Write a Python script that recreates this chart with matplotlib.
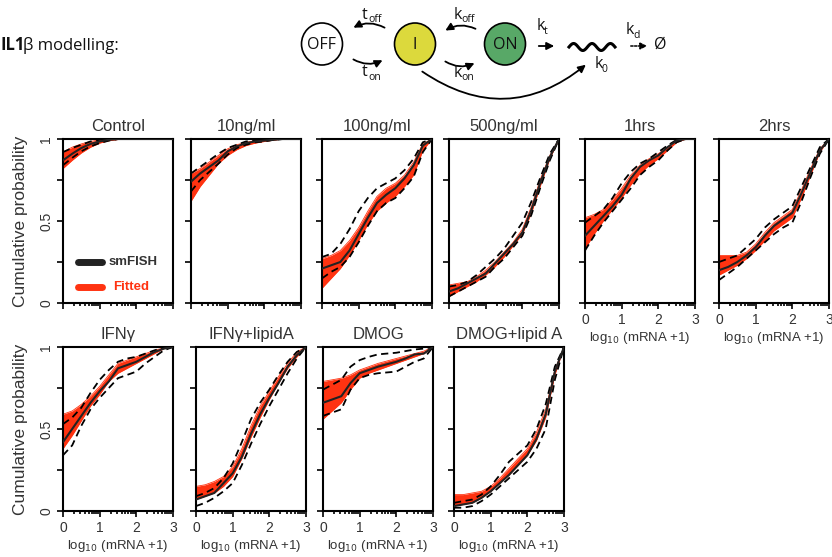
import numpy as np
import matplotlib
matplotlib.use("Agg")
import matplotlib.pyplot as plt
from matplotlib.patches import Ellipse

plt.rcParams['font.family'] = ['Liberation Sans', 'DejaVu Sans']

# ---- data: cumulative probability vs log10(mRNA+1) ----
XG = [0, 0.25, 0.5, 0.75, 1.0, 1.25, 1.5, 1.75, 2.0, 2.25, 2.5, 2.75, 3.0]

CONTROL = dict(
    mean=[0.87, 0.91, 0.945, 0.97, 0.985, 0.995, 1, 1, 1, 1, 1, 1, 1],
    hi=[0.92, 0.945, 0.965, 0.985, 0.995, 1, 1, 1, 1, 1, 1, 1, 1],
    lo=[0.84, 0.885, 0.925, 0.955, 0.975, 0.99, 1, 1, 1, 1, 1, 1, 1],
    fit_lo=[0.82, 0.87, 0.915, 0.95, 0.975, 0.99, 0.997, 1, 1, 1, 1, 1, 1],
    fit_hi=[0.92, 0.95, 0.97, 0.985, 0.995, 1, 1, 1, 1, 1, 1, 1, 1])
NG10 = dict(
    mean=[0.74, 0.79, 0.83, 0.87, 0.925, 0.955, 0.975, 0.985, 0.99, 0.995, 1, 1, 1],
    hi=[0.79, 0.83, 0.87, 0.91, 0.945, 0.965, 0.985, 0.99, 0.995, 1, 1, 1, 1],
    lo=[0.68, 0.75, 0.80, 0.85, 0.905, 0.945, 0.965, 0.98, 0.985, 0.995, 1, 1, 1],
    fit_lo=[0.62, 0.71, 0.78, 0.85, 0.90, 0.935, 0.96, 0.975, 0.985, 0.993, 1, 1, 1],
    fit_hi=[0.79, 0.82, 0.86, 0.90, 0.94, 0.965, 0.98, 0.99, 0.995, 1, 1, 1, 1])
NG100 = dict(
    mean=[0.21, 0.23, 0.25, 0.32, 0.42, 0.52, 0.61, 0.66, 0.70, 0.76, 0.84, 0.96, 1],
    hi=[0.28, 0.30, 0.36, 0.45, 0.56, 0.64, 0.70, 0.73, 0.76, 0.81, 0.88, 0.98, 1],
    lo=[0.15, 0.19, 0.22, 0.28, 0.37, 0.47, 0.56, 0.61, 0.64, 0.70, 0.77, 0.92, 1],
    fit_lo=[0.09, 0.15, 0.21, 0.29, 0.38, 0.48, 0.56, 0.61, 0.65, 0.71, 0.78, 0.93, 1],
    fit_hi=[0.27, 0.29, 0.32, 0.38, 0.46, 0.56, 0.65, 0.70, 0.73, 0.78, 0.86, 0.97, 1])
NG500 = dict(
    mean=[0.07, 0.09, 0.12, 0.15, 0.18, 0.24, 0.30, 0.36, 0.43, 0.57, 0.74, 0.89, 1],
    hi=[0.10, 0.11, 0.13, 0.17, 0.22, 0.27, 0.33, 0.41, 0.49, 0.62, 0.77, 0.91, 1],
    lo=[0.04, 0.07, 0.10, 0.13, 0.16, 0.22, 0.27, 0.34, 0.41, 0.54, 0.71, 0.87, 1],
    fit_lo=[0.04, 0.07, 0.10, 0.13, 0.17, 0.22, 0.28, 0.35, 0.42, 0.55, 0.72, 0.88, 1],
    fit_hi=[0.11, 0.12, 0.13, 0.16, 0.20, 0.25, 0.31, 0.37, 0.45, 0.59, 0.76, 0.90, 1])
HRS1 = dict(
    mean=[0.41, 0.47, 0.53, 0.59, 0.66, 0.76, 0.83, 0.87, 0.90, 0.95, 0.99, 1, 1],
    hi=[0.49, 0.53, 0.57, 0.64, 0.73, 0.80, 0.85, 0.88, 0.92, 0.96, 0.995, 1, 1],
    lo=[0.32, 0.41, 0.49, 0.56, 0.63, 0.70, 0.78, 0.83, 0.87, 0.93, 0.98, 1, 1],
    fit_lo=[0.33, 0.42, 0.50, 0.57, 0.64, 0.72, 0.79, 0.84, 0.88, 0.93, 0.98, 1, 1],
    fit_hi=[0.52, 0.54, 0.57, 0.63, 0.70, 0.78, 0.84, 0.88, 0.91, 0.95, 0.99, 1, 1])
HRS2 = dict(
    mean=[0.20, 0.22, 0.25, 0.29, 0.34, 0.41, 0.47, 0.51, 0.55, 0.67, 0.80, 0.93, 1],
    hi=[0.25, 0.27, 0.29, 0.34, 0.39, 0.46, 0.51, 0.55, 0.59, 0.71, 0.83, 0.95, 1],
    lo=[0.14, 0.18, 0.22, 0.27, 0.32, 0.37, 0.42, 0.46, 0.49, 0.62, 0.77, 0.91, 1],
    fit_lo=[0.17, 0.20, 0.23, 0.27, 0.32, 0.38, 0.44, 0.48, 0.52, 0.64, 0.78, 0.92, 1],
    fit_hi=[0.29, 0.29, 0.29, 0.31, 0.36, 0.43, 0.49, 0.53, 0.57, 0.69, 0.82, 0.94, 1])
IFNG = dict(
    mean=[0.42, 0.50, 0.58, 0.66, 0.73, 0.79, 0.87, 0.89, 0.91, 0.94, 0.97, 0.99, 1],
    hi=[0.53, 0.57, 0.63, 0.72, 0.80, 0.86, 0.91, 0.93, 0.94, 0.96, 0.98, 0.995, 1],
    lo=[0.34, 0.40, 0.52, 0.62, 0.69, 0.75, 0.81, 0.83, 0.85, 0.90, 0.94, 0.98, 1],
    fit_lo=[0.38, 0.46, 0.55, 0.64, 0.71, 0.79, 0.84, 0.87, 0.90, 0.93, 0.96, 0.99, 1],
    fit_hi=[0.59, 0.61, 0.65, 0.70, 0.76, 0.83, 0.90, 0.92, 0.94, 0.96, 0.98, 0.995, 1])
IFNG_LIPA = dict(
    mean=[0.07, 0.09, 0.11, 0.17, 0.23, 0.33, 0.47, 0.59, 0.69, 0.78, 0.88, 0.95, 1],
    hi=[0.09, 0.11, 0.14, 0.20, 0.29, 0.42, 0.56, 0.66, 0.74, 0.83, 0.91, 0.97, 1],
    lo=[0.03, 0.05, 0.08, 0.12, 0.17, 0.28, 0.41, 0.53, 0.64, 0.74, 0.84, 0.93, 1],
    fit_lo=[0.07, 0.09, 0.11, 0.15, 0.21, 0.32, 0.45, 0.57, 0.68, 0.78, 0.87, 0.94, 1],
    fit_hi=[0.15, 0.16, 0.18, 0.21, 0.27, 0.38, 0.52, 0.64, 0.73, 0.82, 0.90, 0.97, 1])
DMOG = dict(
    mean=[0.66, 0.68, 0.70, 0.78, 0.84, 0.86, 0.88, 0.895, 0.91, 0.93, 0.955, 0.96, 1],
    hi=[0.74, 0.77, 0.80, 0.88, 0.92, 0.94, 0.955, 0.96, 0.965, 0.975, 0.985, 0.99, 1],
    lo=[0.58, 0.60, 0.62, 0.74, 0.81, 0.83, 0.84, 0.845, 0.85, 0.88, 0.91, 0.93, 1],
    fit_lo=[0.56, 0.61, 0.66, 0.74, 0.81, 0.84, 0.86, 0.88, 0.90, 0.92, 0.94, 0.96, 1],
    fit_hi=[0.79, 0.80, 0.81, 0.83, 0.86, 0.88, 0.90, 0.915, 0.93, 0.945, 0.96, 0.975, 1])
DMOG_LIPA = dict(
    mean=[0.03, 0.04, 0.05, 0.08, 0.12, 0.17, 0.22, 0.28, 0.34, 0.44, 0.59, 0.85, 1],
    hi=[0.05, 0.06, 0.07, 0.10, 0.15, 0.22, 0.30, 0.35, 0.40, 0.50, 0.65, 0.88, 1],
    lo=[0.02, 0.02, 0.03, 0.06, 0.10, 0.15, 0.20, 0.25, 0.30, 0.38, 0.50, 0.80, 1],
    fit_lo=[0.03, 0.04, 0.05, 0.08, 0.12, 0.17, 0.22, 0.28, 0.34, 0.43, 0.57, 0.83, 1],
    fit_hi=[0.10, 0.10, 0.11, 0.12, 0.15, 0.20, 0.26, 0.32, 0.38, 0.48, 0.62, 0.86, 1])

TITLES_TOP = ["Control", "10ng/ml", "100ng/ml", "500ng/ml", "1hrs", "2hrs"]
TITLES_BOT = ["IFN\u03b3", "IFN\u03b3+lipidA", "DMOG", "DMOG+lipid A"]
DATA_TOP = [CONTROL, NG10, NG100, NG500, HRS1, HRS2]
DATA_BOT = [IFNG, IFNG_LIPA, DMOG, DMOG_LIPA]

RED = "#ff3311"
TXT = "#333333"
W, H = 832, 557

fig = plt.figure(figsize=(W / 100, H / 100), dpi=100)


def px_axes(left, top, width=110, height=164):
    return fig.add_axes([left / W, 1 - (top + height) / H, width / W, height / H])


def draw_panel(ax, d, title, ylab=False, xlab=False):
    x = np.array(XG)
    ax.fill_between(x, d["fit_lo"], d["fit_hi"], color=RED, lw=0, zorder=1)
    ax.plot(x, d["fit_lo"], color=RED, lw=0.6, zorder=1)
    ax.plot(x, d["fit_hi"], color=RED, lw=0.6, zorder=1)
    ax.plot(x, d["hi"], color="black", lw=1.3, ls=(0, (4, 2.5)), zorder=3)
    ax.plot(x, d["lo"], color="black", lw=1.3, ls=(0, (4, 2.5)), zorder=3)
    ax.plot(x, d["mean"], color="#222222", lw=1.5, zorder=4)
    ax.set_xlim(0, 3)
    ax.set_ylim(0, 1)
    ax.set_title(title, fontsize=12, color=TXT, pad=6)
    # log-style minor ticks within each decade
    minors = [n + np.log10(k) for n in range(3) for k in range(2, 10)]
    ax.set_xticks([0, 1, 2, 3])
    ax.set_xticks(minors, minor=True)
    ax.set_yticks([0, 0.5, 1])
    ax.set_yticks([0.25, 0.75], minor=True)
    ax.tick_params(which="both", direction="out", width=1.2, color="black",
                   labelsize=10, labelcolor=TXT, pad=3)
    ax.tick_params(which="major", length=4)
    ax.tick_params(axis="y", which="minor", length=4)
    ax.tick_params(axis="x", which="minor", length=2.5)
    for s in ax.spines.values():
        s.set_linewidth(1.5)
    if ylab:
        ax.set_yticklabels(["0", "0.5", "1"], rotation=90, va="center")
        ax.set_ylabel("Cumulative probability", fontsize=12.5, color=TXT, labelpad=8)
    else:
        ax.set_yticklabels([])
    if xlab:
        ax.set_xticklabels(["0", "1", "2", "3"])
        ax.set_xlabel("log$_{10}$ (mRNA +1)", fontsize=9.5, color=TXT, labelpad=2)
    else:
        ax.set_xticklabels([])


top_lefts = [63, 191, 322, 449, 585, 719]
for i, (left, d, t) in enumerate(zip(top_lefts, DATA_TOP, TITLES_TOP)):
    ax = px_axes(left, 139)
    draw_panel(ax, d, t, ylab=(i == 0), xlab=(i >= 4))
    if i == 0:
        ax.plot([0.4, 1.05], [0.25, 0.25], color="#222222", lw=5, solid_capstyle="round")
        ax.plot([0.4, 1.05], [0.1, 0.1], color=RED, lw=5, solid_capstyle="round")
        ax.text(1.25, 0.25, "smFISH", fontsize=9.5, fontweight="bold", color=TXT, va="center")
        ax.text(1.38, 0.1, "Fitted", fontsize=9.5, fontweight="bold", color=RED, va="center")

bot_lefts = [63, 196, 323, 454]
for i, (left, d, t) in enumerate(zip(bot_lefts, DATA_BOT, TITLES_BOT)):
    ax = px_axes(left, 347)
    draw_panel(ax, d, t, ylab=(i == 0), xlab=True)

# ---- model schematic (pixel coordinates) ----
ov = fig.add_axes([0, 0, 1, 1], zorder=-1)
ov.set_xlim(0, W)
ov.set_ylim(H, 0)
ov.axis("off")

dfont = dict(family=["Open Sans", "DejaVu Sans"], color="#111111")
ov.text(0, 45, "IL1", fontsize=12, fontweight="bold", va="center", **dfont)
ov.text(23, 45, "\u03b2 modelling:", fontsize=12, va="center", **dfont)

for cx, fc, lab in [(322, "white", "OFF"), (415, "#dcd93c", "I"), (505, "#58a867", "ON")]:
    ov.add_patch(Ellipse((cx, 44), 41, 42, facecolor=fc, edgecolor="black", lw=1.2))
    ov.text(cx, 45, lab, ha="center", va="center", fontsize=11.5, **dfont)

arrow = dict(arrowstyle="-|>", color="black", lw=1.3, mutation_scale=11)


def arc(x0, y0, x1, y1, rad):
    ov.annotate("", xy=(x1, y1), xytext=(x0, y0),
                arrowprops=dict(connectionstyle=f"arc3,rad={rad}", **arrow))


arc(387, 29, 351, 29, 0.3)
arc(351, 58, 385, 59, 0.3)
arc(478, 30, 443, 32, 0.3)
arc(443, 60, 477, 62, 0.3)
arc(536, 46, 557, 46, 0)
arc(420, 70, 588, 63, 0.38)
ov.annotate("", xy=(650, 46), xytext=(628, 46),
            arrowprops=dict(arrowstyle="-|>", color="black", lw=1.1, ls=(0, (1.5, 1)),
                            mutation_scale=10))

wx = np.linspace(569, 615, 80)
ov.plot(wx, 47 - 3.5 * np.sin((wx - 569) / 46 * 2.5 * 2 * np.pi), color="black", lw=2.2)

ov.text(660, 45, "\u00d8", fontsize=11.5, va="center", ha="center", **dfont)
sub = 7.5
for x, y, base, s in [(365, 15, "t", "off"), (365, 72, "t", "on"), (458, 15, "k", "off"),
                      (458, 73, "k", "on"), (541, 26, "k", "t"), (630, 30, "k", "d"),
                      (599, 64, "k", "0")]:
    ov.text(x, y, base, fontsize=11.5, ha="center", va="center", **dfont)
    ov.text(x + 3, y + 5, s, fontsize=sub, ha="left", va="center", **dfont)

fig.savefig("out.png", dpi=100)
